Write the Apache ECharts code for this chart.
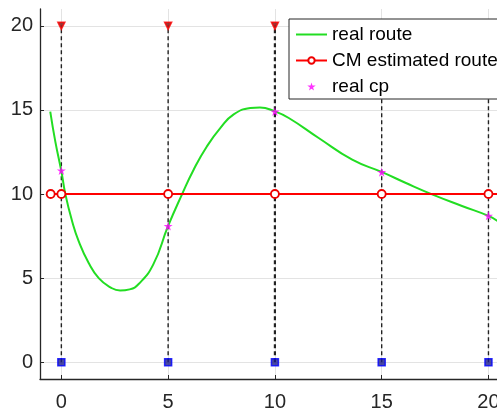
<!DOCTYPE html>
<html>
<head>
<meta charset="utf-8">
<script src="https://cdn.jsdelivr.net/npm/echarts@6/dist/echarts.min.js"></script>
<style>
  html, body { margin: 0; padding: 0; background: #fff; }
  #chart { width: 497px; height: 409px; }
</style>
</head>
<body>
<div id="chart"></div>
<script>
// tick labels
const tickValues = [0, 5, 10, 15, 20]

// real route (green curve)
const routeX = [-0.52, -0.28, 0, 0.19, 0.5, 0.81, 1.28, 1.75, 2.3, 2.75, 3.2, 3.62, 4.3, 5, 5.65, 6.2, 6.82, 7.45, 8.07, 8.85, 9.3, 10, 10.65, 12.05, 13.62, 15.02, 16.11, 17.36, 18.76, 20, 20.42]
const routeY = [14.9, 13.1, 11.36, 9.98, 8.4, 7.2, 5.9, 5.0, 4.45, 4.26, 4.33, 4.65, 5.8, 8.1, 9.98, 11.46, 12.84, 13.93, 14.73, 15.11, 15.15, 14.91, 14.52, 13.33, 12.04, 11.3, 10.67, 9.98, 9.29, 8.7, 8.4]

// CM estimated route
const cmX = [-0.5, 0, 5, 10, 15, 20, 25]
const cmY = [10, 10, 10, 10, 10, 10, 10]

// real change points
const cpX = [0, 5, 10, 15, 20]
const cpY = [11.4, 8.1, 14.9, 11.3, 8.7]

// vertical markers
const topY = 20
const bottomY = 0

const font = "'Liberation Sans', Arial, Helvetica, sans-serif"
const star = 'path://M50,0 L61,35 L98,35 L68,57 L79,91 L50,70 L21,91 L32,57 L2,35 L39,35 Z'

const dashSeries = cpX.map(x => ({
  name: 'dash' + x,
  type: 'line',
  data: [[x, bottomY], [x, topY]],
  symbol: 'none',
  silent: true,
  z: 1,
  lineStyle: { color: '#222', width: x === 10 ? 2.2 : 1.4, type: [4, 3] }
}))

const chart = echarts.init(document.getElementById('chart'))
chart.setOption({
  animation: false,
  textStyle: { fontFamily: font },
  grid: { left: 40, right: 0, top: 9, bottom: 30, outerBoundsMode: 'none', containLabel: false },
  legend: {
    orient: 'vertical',
    left: 289,
    top: 19,
    z: 20,
    padding: [6, 6, 3, 6],
    itemGap: 7,
    itemWidth: 31,
    itemHeight: 8,
    backgroundColor: '#fff',
    borderColor: '#262626',
    borderWidth: 1,
    borderRadius: 0,
    textStyle: { fontSize: 19, color: '#000', fontFamily: font },
    data: [
      { name: 'real route', itemStyle: { opacity: 0 } },
      { name: 'CM estimated route' },
      { name: 'real cp' }
    ]
  },
  xAxis: {
    type: 'value',
    min: -1,
    max: 20.4,
    axisLine: { show: true, onZero: false, lineStyle: { color: '#262626', width: 1.3 } },
    axisTick: { show: true, inside: true, length: 4, customValues: tickValues, lineStyle: { color: '#262626' } },
    axisLabel: { customValues: tickValues, fontSize: 20, color: '#262626', margin: 13, fontFamily: font },
    splitLine: { show: true, lineStyle: { color: '#e3e3e3', width: 1 } }
  },
  yAxis: {
    type: 'value',
    min: -1,
    max: 21,
    axisLine: { show: true, onZero: false, lineStyle: { color: '#262626', width: 1.3 } },
    axisTick: { show: true, inside: true, length: 4, customValues: tickValues, lineStyle: { color: '#262626' } },
    axisLabel: { customValues: tickValues, fontSize: 20, color: '#262626', margin: 7, fontFamily: font },
    splitLine: { show: true, lineStyle: { color: '#e3e3e3', width: 1 } }
  },
  series: [
    ...dashSeries,
    {
      name: 'real route',
      type: 'line',
      data: routeX.map((x, i) => [x, routeY[i]]),
      smooth: 0.5,
      symbol: 'none',
      z: 3,
      lineStyle: { color: '#22dd22', width: 2 },
      itemStyle: { color: '#22dd22' }
    },
    {
      name: 'CM estimated route',
      type: 'line',
      data: cmX.map((x, i) => [x, cmY[i]]),
      symbol: 'circle',
      symbolSize: 8,
      z: 4,
      lineStyle: { color: '#ff0000', width: 2 },
      itemStyle: { color: '#fff', borderColor: '#ee0000', borderWidth: 1.8 }
    },
    {
      name: 'real cp',
      type: 'scatter',
      data: cpX.map((x, i) => [x, cpY[i]]),
      symbol: star,
      symbolSize: 9,
      z: 5,
      itemStyle: { color: '#ff00ff' }
    },
    {
      name: 'top',
      type: 'scatter',
      data: cpX.map(x => [x, topY]),
      symbol: 'triangle',
      symbolRotate: 180,
      symbolSize: 7,
      z: 5,
      itemStyle: { color: '#8b0000', borderColor: '#ff0000', borderWidth: 1.5 }
    },
    {
      name: 'bottom',
      type: 'scatter',
      data: cpX.map(x => [x, bottomY]),
      symbol: 'rect',
      symbolSize: 7,
      z: 5,
      itemStyle: { color: '#1a1a8c', borderColor: '#0000ff', borderWidth: 1.5 }
    }
  ]
})
</script>
</body>
</html>
